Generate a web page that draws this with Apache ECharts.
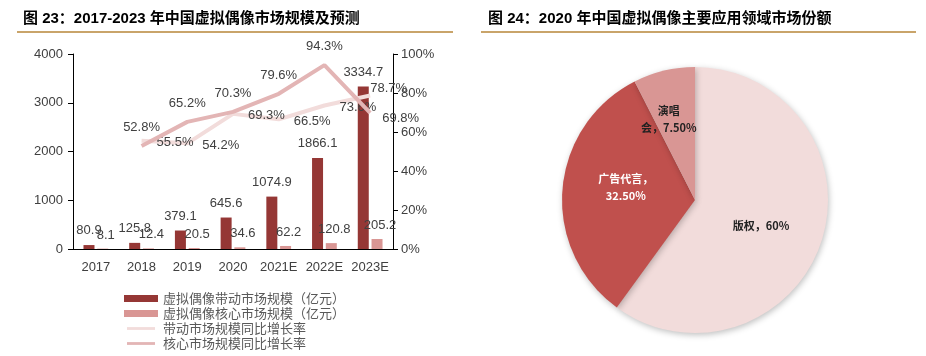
<!DOCTYPE html>
<html><head><meta charset="utf-8">
<script src="https://cdn.jsdelivr.net/npm/echarts@6/dist/echarts.min.js"></script>
<style>html,body{margin:0;padding:0;background:#fff}#c{width:926px;height:356px}</style>
</head><body><div id="c"></div>
<script>
const years = ['2017','2018','2019','2020','2021E','2022E','2023E'];
const drivenMarket = [80.9,125.8,379.1,645.6,1074.9,1866.1,3334.7];
const coreMarket = [8.1,12.4,20.5,34.6,62.2,120.8,205.2];
const drivenGrowth = [null,55.5,54.2,69.3,66.5,73.6,78.7];
const coreGrowth = [null,52.8,65.2,70.3,79.6,94.3,69.8];
const leftTicks = [0,1000,2000,3000,4000];
const rightTicks = ['0%','20%','40%','60%','80%','100%'];
const pieNames = ['版权','广告代言','演唱会'];
const pieValues = [60,32.5,7.5];
const pieLabels = ['版权，60%','广告代言，\n32.50%','演唱\n会，7.50%'];
const seriesNames = ['虚拟偶像带动市场规模（亿元）','虚拟偶像核心市场规模（亿元）','带动市场规模同比增长率','核心市场规模同比增长率'];

const FF = 'Liberation Sans, Arial, Noto Sans CJK SC, sans-serif';
const chart = echarts.init(document.getElementById('c'));
const lastIdx = years.length - 1;
const drivenData = drivenGrowth.map((v,i)=> i===lastIdx ? {value:v,label:{position:'right',offset:[-5,-7]}} : v);
const coreData = coreGrowth.map((v,i)=> i===lastIdx ? {value:v,label:{position:'right',offset:[0,6]}} : v);
const lineIcon = 'path://M0,0M0,10M0,3L40,3L40,7L0,7Z';
const pieOffsets = [[0,4],[0,-7],[-10,-13]];

chart.setOption({
  animation:false,
  textStyle:{fontFamily:FF},
  title:[
    {text:'图 23：2017-2023 年中国虚拟偶像市场规模及预测',left:18,top:6,textStyle:{fontSize:15,fontWeight:'bold',color:'#000',fontFamily:'Liberation Sans, Noto Sans CJK SC'}},
    {text:'图 24：2020 年中国虚拟偶像主要应用领域市场份额',left:483,top:6,textStyle:{fontSize:15,fontWeight:'bold',color:'#000',fontFamily:'Liberation Sans, Noto Sans CJK SC'}}
  ],
  graphic:[
    {type:'line',shape:{x1:17,y1:32,x2:453,y2:32},style:{stroke:'#c9a46a',lineWidth:2}},
    {type:'line',shape:{x1:481,y1:32,x2:916,y2:32},style:{stroke:'#c9a46a',lineWidth:2}}
  ],
  legend:{
    orient:'vertical',left:119,top:287,height:120,itemWidth:34,itemHeight:7,itemGap:2,
    textStyle:{fontSize:13,color:'#595959',fontFamily:'Noto Sans CJK SC'},
    data:[
      {name:seriesNames[0],icon:'rect'},
      {name:seriesNames[1],icon:'rect'},
      {name:seriesNames[2],icon:lineIcon},
      {name:seriesNames[3],icon:lineIcon}
    ]
  },
  grid:{left:73,right:533,top:54,bottom:107,containLabel:false},
  xAxis:{type:'category',data:years,
    axisLine:{lineStyle:{color:'#000',width:1}},axisTick:{show:false},
    axisLabel:{fontSize:13,color:'#404040',margin:12,interval:0}},
  yAxis:[
    {type:'value',min:leftTicks[0],max:leftTicks[leftTicks.length-1],interval:1000,
     axisLine:{show:true,lineStyle:{color:'#000'}},axisTick:{show:true,length:5,lineStyle:{color:'#000'}},
     splitLine:{show:false},axisLabel:{fontSize:13,color:'#404040',margin:10,formatter:(v)=>String(v)}},
    {type:'value',min:0,max:100,interval:20,position:'right',
     axisLine:{show:true,lineStyle:{color:'#000'}},axisTick:{show:true,length:5,lineStyle:{color:'#000'}},
     splitLine:{show:false},axisLabel:{fontSize:13,color:'#404040',margin:8,formatter:(v)=>rightTicks[Math.round(v/20)]}}
  ],
  series:[
    {name:seriesNames[0],type:'bar',data:drivenMarket,barWidth:11,barGap:'25%',itemStyle:{color:'#953735'},
     label:{show:true,position:'top',distance:8,fontSize:13,color:'#404040'}},
    {name:seriesNames[1],type:'bar',data:coreMarket,barWidth:11,itemStyle:{color:'#d99694'},
     label:{show:true,position:'top',distance:7,offset:[3,0],fontSize:13,color:'#404040'}},
    {name:seriesNames[2],type:'line',yAxisIndex:1,data:drivenData,symbol:'circle',symbolSize:0.1,showSymbol:true,
     lineStyle:{color:'#f2dcdb',width:4},itemStyle:{color:'#f2dcdb'},z:3,
     label:{show:true,position:'right',distance:5,offset:[10,2],fontSize:13,color:'#404040',formatter:(p)=>p.value.toFixed(1)+'%'}},
    {name:seriesNames[3],type:'line',yAxisIndex:1,data:coreData,symbol:'circle',symbolSize:0.1,showSymbol:true,
     lineStyle:{color:'#e3b5b5',width:4},itemStyle:{color:'#e3b5b5'},z:4,
     label:{show:true,position:'top',distance:12,fontSize:13,color:'#404040',formatter:(p)=>p.value.toFixed(1)+'%'}},
    {name:'市场份额',type:'pie',center:[695,200],radius:133,startAngle:90,clockwise:true,
     label:{show:true,position:'inside',fontSize:11,fontWeight:'bold',fontFamily:'Noto Sans CJK SC',lineHeight:17,align:'center',
       formatter:(p)=>pieLabels[p.dataIndex]},
     labelLine:{show:false},
     itemStyle:{shadowBlur:6,shadowColor:'rgba(0,0,0,0.25)',shadowOffsetX:1,shadowOffsetY:2},
     emphasis:{disabled:true},
     data:pieNames.map((n,i)=>({name:n,value:pieValues[i],
       itemStyle:{color:['#f2dcdb','#c0504d','#d99694'][i]},
       label:{color:i===1?'#fff':'#222',offset:pieOffsets[i]}}))}
  ]
});
</script></body></html>
